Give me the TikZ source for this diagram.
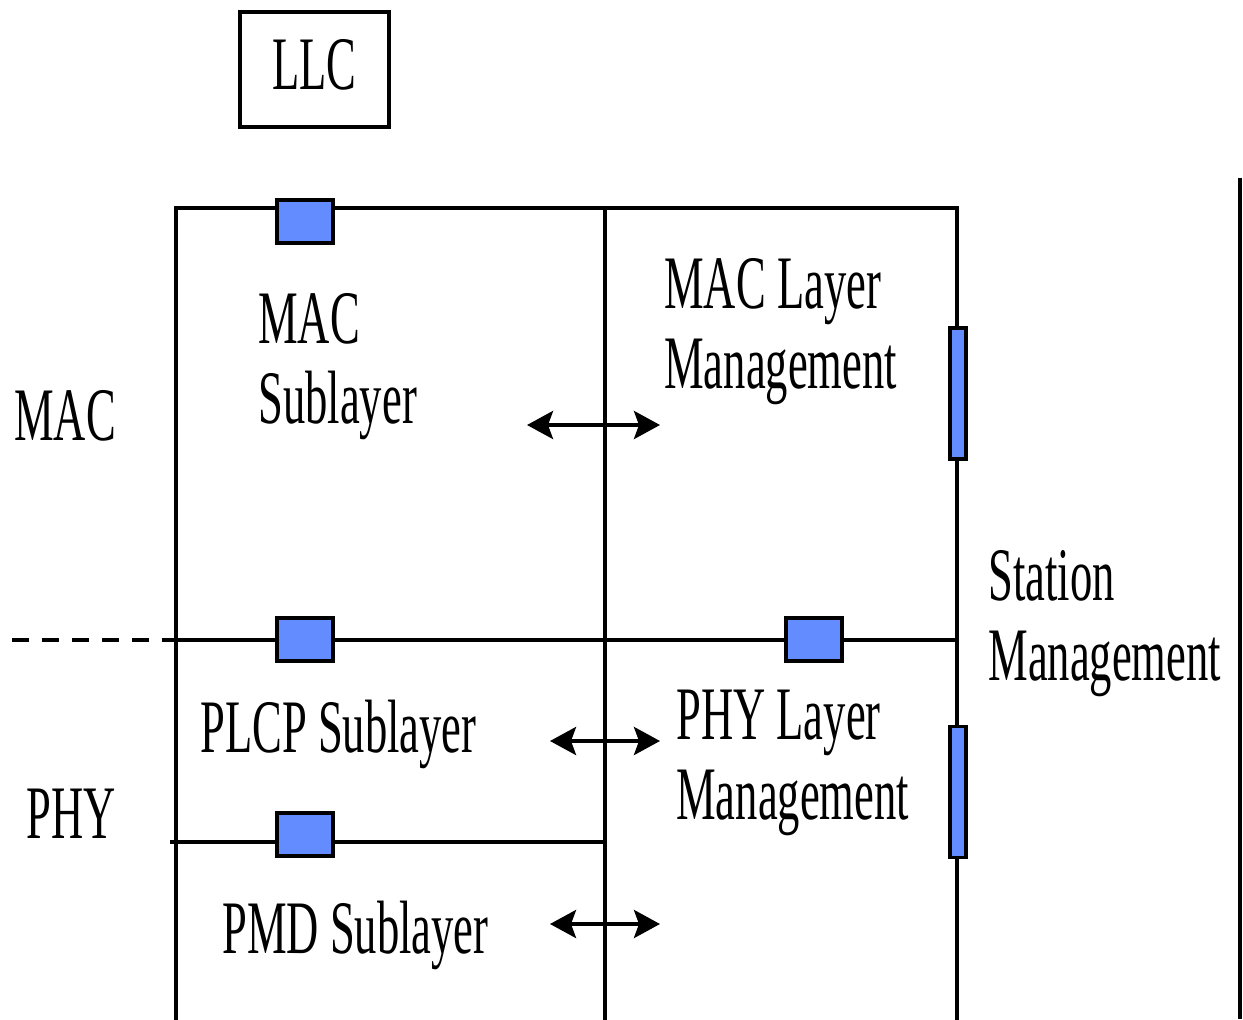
\documentclass[tikz,border=0pt]{standalone}
\usepackage{fontspec}
\usepackage{xcolor}
\usepackage{tikz}
\usetikzlibrary{arrows.meta, positioning}
\newfontfamily\condfont[FakeStretch=0.59]{Liberation Serif}
\definecolor{sapblue}{RGB}{98, 140, 255}

\begin{document}
\begin{tikzpicture}[
    >={Stealth[length=0.52cm, width=0.56cm, inset=0.1cm]},
    % Box Styles
    llcbox/.style={rectangle, draw=black, line width=2.2pt, minimum width=2.98cm, minimum height=2.3cm, inner sep=0pt, font=\condfont\fontsize{43}{45.5}\selectfont},
    sapbox/.style={rectangle, draw=black, fill=sapblue, line width=2.2pt, minimum width=1.12cm, minimum height=0.86cm, inner sep=0pt},
    sapbar/.style={rectangle, draw=black, fill=sapblue, line width=2.2pt, minimum width=0.32cm, minimum height=2.62cm, inner sep=0pt},
    lbl/.style={inner sep=0pt, align=left, font=\condfont\fontsize{43}{45.5}\selectfont},
    % Line Styles
    frame/.style={line width=2.2pt, line cap=rect},
    svcarrow/.style={<->, line width=2.2pt}
]
    \useasboundingbox (0,0) rectangle (24.86,-20.38);

    % =========================================================================
    % 1. FRAME OF THE LAYERS
    % =========================================================================
    \coordinate (tl) at (3.52,-4.16);
    \coordinate (tm) at (12.1,-4.16);
    \coordinate (tr) at (19.14,-4.16);
    \coordinate (bl) at (3.52,-20.38);
    \coordinate (bm) at (12.1,-20.38);
    \coordinate (br) at (19.14,-20.38);
    \coordinate (dash_l) at (0.24,-12.8);
    \coordinate (mid_l) at (3.52,-12.8);
    \coordinate (mid_r) at (19.14,-12.8);
    \coordinate (pmd_l) at (3.44,-16.84);
    \coordinate (pmd_r) at (12.1,-16.84);
    \coordinate (sm_t) at (24.8,-3.56);
    \coordinate (sm_b) at (24.8,-20.38);

    \draw[frame] (bl) -- (tl) -- (tr) -- (br);
    \draw[frame] (tm) -- (bm);
    \draw[frame] (mid_l) -- (mid_r);
    \draw[frame, dashed, dash pattern=on 0.34cm off 0.26cm, line cap=butt] (dash_l) -- (mid_l);
    \draw[frame] (pmd_l) -- (pmd_r);
    \draw[frame, line cap=butt] (sm_t) -- (sm_b);

    % =========================================================================
    % 2. LLC AND SERVICE ACCESS POINTS
    % =========================================================================
    \node (llc) [llcbox] at (6.29,-1.39) {\raisebox{0.2cm}{LLC}};

    \node (sap_mac)  [sapbox] at (6.1,-4.43) {};
    \node (sap_phy)  [sapbox] at (6.1,-12.79) {};
    \node (sap_mlme) [sapbox] at (16.28,-12.79) {};
    \node (sap_pmd)  [sapbox] at (6.1,-16.69) {};
    \node (sap_sm1)  [sapbar] at (19.16,-7.87) {};
    \node (sap_sm2)  [sapbar] at (19.16,-15.84) {};

    % =========================================================================
    % 3. LABELS
    % =========================================================================
    \node (lbl_mac)  [lbl, anchor=base west] at (0.28,-8.8) {MAC};
    \node (lbl_phy)  [lbl, anchor=base west] at (0.52,-16.76) {PHY};
    \node (mac_sub)  [lbl, anchor=north west] at (5.16,-5.86) {MAC\\Sublayer};
    \node (mac_mgmt) [lbl, anchor=north west] at (13.28,-5.16) {MAC Layer\\Management};
    \node (sta_mgmt) [lbl, anchor=north west] at (19.76,-11.0) {Station\\Management};
    \node (phy_mgmt) [lbl, anchor=north west] at (13.52,-13.8) {PHY Layer\\Management};
    \node (plcp_sub) [lbl, anchor=base west] at (4.0,-15.04) {PLCP Sublayer};
    \node (pmd_sub)  [lbl, anchor=base west] at (4.44,-19.06) {PMD Sublayer};

    % =========================================================================
    % 4. MANAGEMENT ARROWS
    % =========================================================================
    \coordinate (mac_a) at (10.54,-8.5);
    \coordinate (mac_b) at (13.2,-8.5);
    \coordinate (plcp_a) at (11.0,-14.82);
    \coordinate (plcp_b) at (13.2,-14.82);
    \coordinate (pmd_a) at (11.0,-18.48);
    \coordinate (pmd_b) at (13.2,-18.48);

    \draw[svcarrow] (mac_a) -- (mac_b);
    \draw[svcarrow] (plcp_a) -- (plcp_b);
    \draw[svcarrow] (pmd_a) -- (pmd_b);

\end{tikzpicture}
\end{document}
